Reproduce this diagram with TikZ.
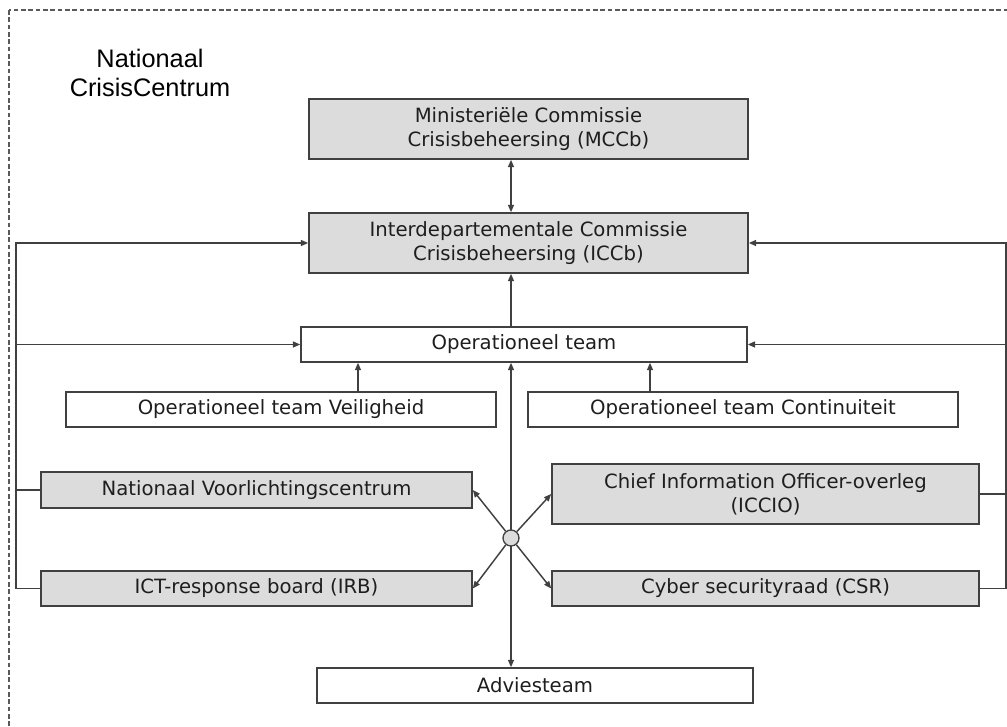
\documentclass[tikz,border=0pt]{standalone}
\usepackage{fontspec}
\usetikzlibrary{arrows.meta,calc}
\newfontfamily\boxfont{DejaVu Sans}
\newfontfamily\titlefont{Liberation Sans}
\definecolor{linegray}{RGB}{64,64,64}
\definecolor{framegray}{RGB}{90,90,90}
\definecolor{boxgray}{RGB}{220,220,220}
\definecolor{textgray}{RGB}{30,30,30}

\tikzset{every picture/.style={line width=0.75pt}}
\tikzset{
  orgbox/.style={draw=linegray, line width=1.2pt, fill=boxgray, inner sep=0pt, align=center,
    text=textgray, font=\boxfont\fontsize{14.75}{18}\selectfont},
  plainbox/.style={orgbox, fill=white},
  arr/.style={draw=linegray, line width=1.1pt, -{Triangle[length=5.5pt,width=4.5pt]}},
  arrtwo/.style={arr, {Triangle[length=5.5pt,width=4.5pt]}-{Triangle[length=5.5pt,width=4.5pt]}},
  link/.style={draw=linegray, line width=1.1pt},
}

\begin{document}
\begin{tikzpicture}[x=0.75pt,y=0.75pt,yscale=-1,xscale=1]
        \useasboundingbox (0,0) rectangle (1007,727);
        %Shape: Frame (dashed, runs off the page at right and bottom)
        \begin{scope}
        \clip (0,0) rectangle (1007,727);
        \draw [color=framegray, line width=1pt, dash pattern={on 3.5pt off 2pt}] (9,10) rectangle (1030,750);
        \end{scope}

        % Text Node
        \node [align=center, text=black, font=\titlefont\fontsize{19}{22}\selectfont] (title) at (150,73) {Nationaal\\CrisisCentrum};

        %Shape: Rectangles
        \node [orgbox, minimum width=329.25pt, minimum height=45pt] (mccb) at (528.5,129) {Ministeriële Commissie\\Crisisbeheersing (MCCb)};
        \node [orgbox, minimum width=329.25pt, minimum height=45pt] (iccb) at (528.5,243) {Interdepartementale Commissie\\Crisisbeheersing (ICCb)};
        \node [plainbox, minimum width=334.5pt, minimum height=26.25pt] (optm) at (524,344.5) {Operationeel team};
        \node [plainbox, minimum width=322.5pt, minimum height=26.25pt] (veil) at (281,409.5) {Operationeel team Veiligheid};
        \node [plainbox, minimum width=322.5pt, minimum height=26.25pt] (cont) at (743,409.5) {Operationeel team Continuiteit};
        \node [orgbox, minimum width=323.25pt, minimum height=27pt] (nvc) at (256.5,490) {Nationaal Voorlichtingscentrum};
        \node [orgbox, minimum width=323.25pt, minimum height=26.25pt] (irb) at (256.5,588.5) {ICT-response board (IRB)};
        \node [orgbox, minimum width=320.25pt, minimum height=45pt] (cio) at (765.5,494) {Chief Information Officer-overleg\\(ICCIO)};
        \node [orgbox, minimum width=320.25pt, minimum height=26.25pt] (csr) at (765.5,588.5) {Cyber securityraad (CSR)};
        \node [plainbox, minimum width=327pt, minimum height=26.25pt] (advies) at (535,685.5) {Adviesteam};

        %Straight Lines: centre axis
        \coordinate (hub) at (511,538);
        \draw [arrtwo] (mccb.south -| hub) -- (iccb.north -| hub);
        \draw [arr] (optm.north -| hub) -- (iccb.south -| hub);
        \draw [arrtwo] (advies.north -| hub) -- (optm.south -| hub);
        \node [circle, draw=linegray, line width=1pt, fill=boxgray, minimum size=12pt, inner sep=0pt] (hubdot) at (hub) {};

        %Straight Lines: hub to the four boxes
        \draw [arr] (hubdot) -- (nvc.east);
        \draw [arr] (hubdot) -- (irb.east);
        \draw [arr] (hubdot) -- (cio.west);
        \draw [arr] (hubdot) -- (csr.west);

        %Straight Lines: teams up to Operationeel team
        \draw [arr] ($(veil.north)+(77,0)$) coordinate (veiltop) -- (veiltop |- optm.south);
        \draw [arr] ($(cont.north)+(-93,0)$) coordinate (conttop) -- (conttop |- optm.south);

        %Straight Lines: left bus
        \draw [link] (nvc.west) -- ++(-24,0);
        \draw [arr] (irb.west) -- ++(-24,0) |- (iccb.west);
        \draw [arr] (irb.west) -- ++(-24,0) |- (optm.west);

        %Straight Lines: right bus
        \draw [link] (cio.east) -- ++(26,0);
        \draw [arr] (csr.east) -- ++(26,0) |- (iccb.east);
        \draw [arr] (csr.east) -- ++(26,0) |- (optm.east);
        \end{tikzpicture}
\end{document}
